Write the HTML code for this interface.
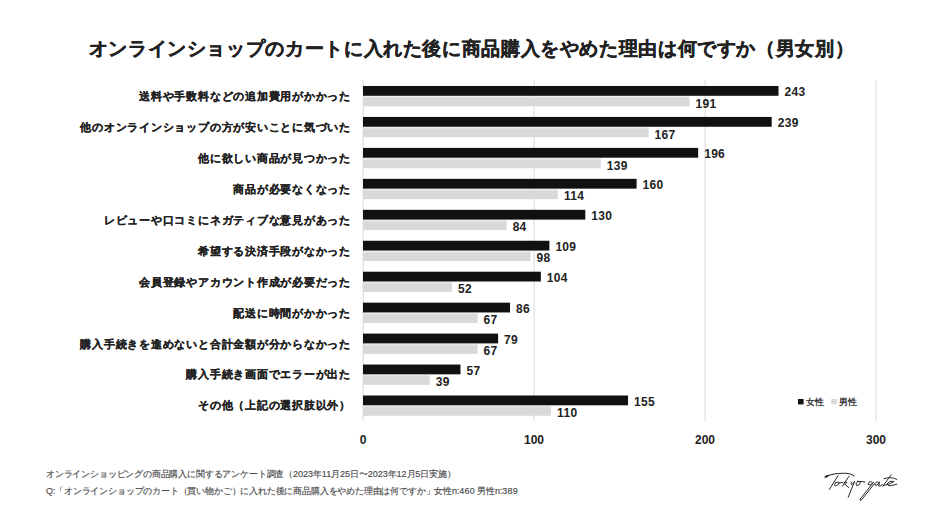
<!DOCTYPE html>
<html><head><meta charset="utf-8"><style>
html,body{margin:0;padding:0;background:#fff;width:941px;height:529px;overflow:hidden;position:relative}
body{font-family:"Liberation Sans",sans-serif;color:#222}
.title{position:absolute;left:1px;width:941px;top:37px;text-align:center;font-size:19px;font-weight:bold;line-height:24px;white-space:nowrap;letter-spacing:0.63px;-webkit-text-stroke:0.35px #222}
svg{position:absolute;left:0;top:0}
.lab{position:absolute;right:590px;font-size:11px;font-weight:bold;line-height:16px;white-space:nowrap;text-align:right;letter-spacing:0.77px;-webkit-text-stroke:0.2px #222}
.val{position:absolute;font-size:12px;font-weight:bold;line-height:14px;white-space:nowrap;letter-spacing:0.3px}
.ax{position:absolute;top:433px;font-size:12px;font-weight:bold;line-height:14px;width:40px;text-align:center}
.leg{position:absolute;top:396.6px;font-size:8.5px;letter-spacing:0.3px;font-weight:bold;line-height:11px;white-space:nowrap;color:#333}
.foot i{font-style:normal;letter-spacing:0}
.foot b{font-weight:normal;letter-spacing:0.3px}
.sq{position:absolute;width:6px;height:6px}
.foot{position:absolute;left:46px;font-size:9px;line-height:12px;color:#4a4a4a;white-space:nowrap;letter-spacing:-0.18px;-webkit-text-stroke:0.15px #4a4a4a}
</style></head><body>
<div class="title">オンラインショップのカートに入れた後に商品購入をやめた理由は何ですか（男女別）</div>
<svg width="941" height="529" viewBox="0 0 941 529">
<rect x="362.5" y="80" width="1.4" height="341" fill="#e4e4e4"/>
<rect x="533.5" y="80" width="1.4" height="341" fill="#e4e4e4"/>
<rect x="704.5" y="80" width="1.4" height="341" fill="#e4e4e4"/>
<rect x="875.5" y="80" width="1.4" height="341" fill="#e4e4e4"/>
<rect x="363" y="86.00" width="415.53" height="9.8" fill="#111"/>
<rect x="363" y="96.70" width="326.61" height="9.6" fill="#d9d9d9"/>
<rect x="363" y="96.70" width="326.61" height="1" fill="#e8e8e8"/>
<rect x="363" y="116.95" width="408.69" height="9.8" fill="#111"/>
<rect x="363" y="127.65" width="285.57" height="9.6" fill="#d9d9d9"/>
<rect x="363" y="127.65" width="285.57" height="1" fill="#e8e8e8"/>
<rect x="363" y="147.90" width="335.16" height="9.8" fill="#111"/>
<rect x="363" y="158.60" width="237.69" height="9.6" fill="#d9d9d9"/>
<rect x="363" y="158.60" width="237.69" height="1" fill="#e8e8e8"/>
<rect x="363" y="178.85" width="273.60" height="9.8" fill="#111"/>
<rect x="363" y="189.55" width="194.94" height="9.6" fill="#d9d9d9"/>
<rect x="363" y="189.55" width="194.94" height="1" fill="#e8e8e8"/>
<rect x="363" y="209.80" width="222.30" height="9.8" fill="#111"/>
<rect x="363" y="220.50" width="143.64" height="9.6" fill="#d9d9d9"/>
<rect x="363" y="220.50" width="143.64" height="1" fill="#e8e8e8"/>
<rect x="363" y="240.75" width="186.39" height="9.8" fill="#111"/>
<rect x="363" y="251.45" width="167.58" height="9.6" fill="#d9d9d9"/>
<rect x="363" y="251.45" width="167.58" height="1" fill="#e8e8e8"/>
<rect x="363" y="271.70" width="177.84" height="9.8" fill="#111"/>
<rect x="363" y="282.40" width="88.92" height="9.6" fill="#d9d9d9"/>
<rect x="363" y="282.40" width="88.92" height="1" fill="#e8e8e8"/>
<rect x="363" y="302.65" width="147.06" height="9.8" fill="#111"/>
<rect x="363" y="313.35" width="114.57" height="9.6" fill="#d9d9d9"/>
<rect x="363" y="313.35" width="114.57" height="1" fill="#e8e8e8"/>
<rect x="363" y="333.60" width="135.09" height="9.8" fill="#111"/>
<rect x="363" y="344.30" width="114.57" height="9.6" fill="#d9d9d9"/>
<rect x="363" y="344.30" width="114.57" height="1" fill="#e8e8e8"/>
<rect x="363" y="364.55" width="97.47" height="9.8" fill="#111"/>
<rect x="363" y="375.25" width="66.69" height="9.6" fill="#d9d9d9"/>
<rect x="363" y="375.25" width="66.69" height="1" fill="#e8e8e8"/>
<rect x="363" y="395.50" width="265.05" height="9.8" fill="#111"/>
<rect x="363" y="406.20" width="188.10" height="9.6" fill="#d9d9d9"/>
<rect x="363" y="406.20" width="188.10" height="1" fill="#e8e8e8"/>
<g fill="none" stroke="#2b2b2b" stroke-width="1" stroke-linecap="round" stroke-linejoin="round">
<path d="M825.2,477.2 Q826,476 828,475.6 Q836,473 845,473.3 Q852,473.8 853.8,475.8" stroke-width="1.1"/>
<path d="M825.6,476.9 L827.8,475.9" stroke-width="1.8"/>
<path d="M838,475.8 L829.4,489.4"/>
<path d="M835.8,482.6 Q833.3,485.3 835.3,485.9 Q838.3,485.8 839.2,482.6 Q838.2,481.6 835.8,482.6 Z M839,483 Q841,482.8 842.6,482.3"/>
<path d="M849.2,476 L842.3,486.3"/>
<path d="M843.8,482.8 Q847.3,480.5 846.6,483 Q845.3,484.3 844.5,484 L848.8,487.6"/>
<path d="M851.6,482 Q850,484.6 852.2,484.5 L854.7,481.2 L848.2,497.2"/>
<path d="M857.6,481.3 Q854.8,484.2 856.6,485.6 Q859.7,485.8 860.4,482.2 Q859.6,480.8 857.6,481.3 Z M859.2,481.6 Q862,481.1 865,482"/>
<path d="M871.6,481.8 Q868,481.2 868.2,484.6 Q870,486.3 873.6,482.2 L860.2,499 Q859.6,501.2 861.6,499.8 L874.2,484"/>
<path d="M879,482.2 Q874.8,481 875,485.2 Q877,486.3 879.6,482.2 L878.6,486 Q880.2,486.4 882.4,484.6"/>
<path d="M891.1,474.8 L882.8,486.2"/>
<path d="M884.1,478.6 Q891.5,476.3 896.8,479.4"/>
<path d="M883.3,485.6 Q889.8,484.6 894,481.4 Q889.5,480.1 886.9,484 Q887.8,487.3 896.8,484.2"/>
</g>
<rect x="798" y="399" width="5.6" height="5.4" fill="#111"/>
<rect x="831.2" y="399" width="5.6" height="5.4" fill="#d9d9d9"/>
</svg>
<div class="lab" style="top:87.90px">送料や手数料などの追加費用がかかった</div>
<div class="val" style="left:784.53px;top:85.40px">243</div>
<div class="val" style="left:695.61px;top:96.60px">191</div>
<div class="lab" style="top:118.85px">他のオンラインショップの方が安いことに気づいた</div>
<div class="val" style="left:777.69px;top:116.35px">239</div>
<div class="val" style="left:654.57px;top:127.55px">167</div>
<div class="lab" style="top:149.80px">他に欲しい商品が見つかった</div>
<div class="val" style="left:704.16px;top:147.30px">196</div>
<div class="val" style="left:606.69px;top:158.50px">139</div>
<div class="lab" style="top:180.75px">商品が必要なくなった</div>
<div class="val" style="left:642.60px;top:178.25px">160</div>
<div class="val" style="left:563.94px;top:189.45px">114</div>
<div class="lab" style="top:211.70px">レビューや口コミにネガティブな意見があった</div>
<div class="val" style="left:591.30px;top:209.20px">130</div>
<div class="val" style="left:512.64px;top:220.40px">84</div>
<div class="lab" style="top:242.65px">希望する決済手段がなかった</div>
<div class="val" style="left:555.39px;top:240.15px">109</div>
<div class="val" style="left:536.58px;top:251.35px">98</div>
<div class="lab" style="top:273.60px">会員登録やアカウント作成が必要だった</div>
<div class="val" style="left:546.84px;top:271.10px">104</div>
<div class="val" style="left:457.92px;top:282.30px">52</div>
<div class="lab" style="top:304.55px">配送に時間がかかった</div>
<div class="val" style="left:516.06px;top:302.05px">86</div>
<div class="val" style="left:483.57px;top:313.25px">67</div>
<div class="lab" style="top:335.50px">購入手続きを進めないと合計金額が分からなかった</div>
<div class="val" style="left:504.09px;top:333.00px">79</div>
<div class="val" style="left:483.57px;top:344.20px">67</div>
<div class="lab" style="top:366.45px">購入手続き画面でエラーが出た</div>
<div class="val" style="left:466.47px;top:363.95px">57</div>
<div class="val" style="left:435.69px;top:375.15px">39</div>
<div class="lab" style="top:397.40px">その他（上記の選択肢以外）</div>
<div class="val" style="left:634.05px;top:394.90px">155</div>
<div class="val" style="left:557.10px;top:406.10px">110</div>
<div class="ax" style="left:343px">0</div>
<div class="ax" style="left:514px">100</div>
<div class="ax" style="left:685px">200</div>
<div class="ax" style="left:856px">300</div>
<div class="leg" style="left:806px">女性</div>
<div class="leg" style="left:839px">男性</div>
<div class="foot" style="top:468px">オンラインショッピングの商品購入に関するアンケート調査（<i>2023</i>年<i>11</i>月<i>25</i>日〜<i>2023</i>年<i>12</i>月<i>5</i>日実施）</div>
<div class="foot" style="top:485px">Q:「オンラインショップのカート（買い物かご）に入れた後に商品購入をやめた理由は何ですか」女性n:<b>460</b> 男性n:<b>389</b></div>
</body></html>
